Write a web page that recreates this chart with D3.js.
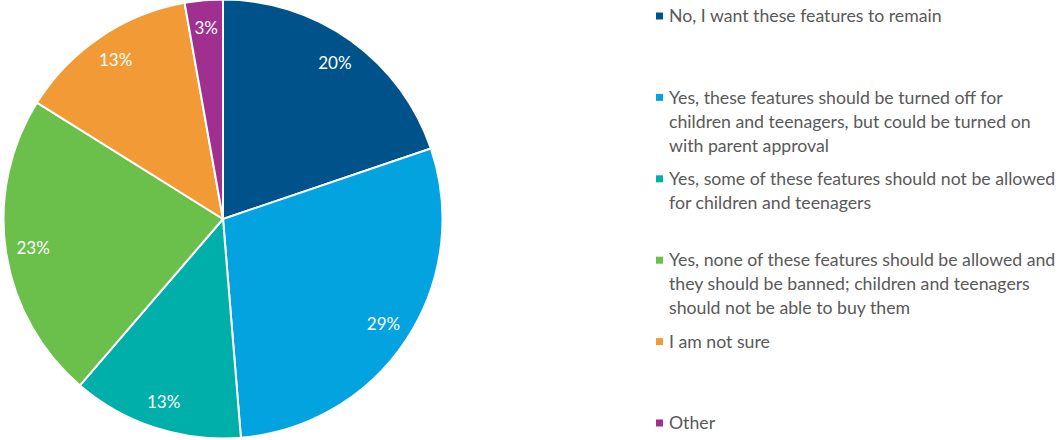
<!DOCTYPE html>
<html>
<head>
<meta charset="utf-8">
<script src="https://cdn.jsdelivr.net/npm/d3@7"></script>
<style>
  body { margin: 0; background: #fff; }
  svg { display: block; font-family: Lato, "Open Sans", sans-serif; }
</style>
</head>
<body>
<div id="chart"></div>
<script>
// answer categories (legend lines already wrapped as in the source)
var categories = [
    ["No, I want these features to remain"],
    ["Yes, these features should be turned off for", "children and teenagers, but could be turned on", "with parent approval"],
    ["Yes, some of these features should not be allowed", "for children and teenagers"],
    ["Yes, none of these features should be allowed and", "they should be banned; children and teenagers", "should not be able to buy them"],
    ["I am not sure"],
    ["Other"]
];

// share of respondents, percent
var values = [19.8, 28.9, 12.6, 22.6, 13.3, 2.8];

var colors = ["#00528A", "#03A3E0", "#00AFA9", "#6BC04B", "#F29B36", "#A0308F"];

var width = 1061, height = 440;
var cx = 223, cy = 219, radius = 219.5;

var svg = d3.select('#chart')
    .append('svg')
    .attr('width', width)
    .attr('height', height);

var pie = d3.pie()
    .sort(null)
    .value(function(d) { return d; });

var arc = d3.arc()
    .innerRadius(0)
    .outerRadius(radius);

var labelArc = d3.arc()
    .innerRadius(192)
    .outerRadius(192);

var g = svg.append('g')
    .attr('transform', "translate(" + cx + "," + cy + ")");

var arcs = pie(values);

g.selectAll('.slice')
    .data(arcs)
    .enter()
    .append('path')
    .attr('class', 'slice')
    .attr('d', arc)
    .attr('fill', function(d, i) { return colors[i]; })
    .attr('stroke', '#fff')
    .attr('stroke-width', 2)
    .attr('stroke-linejoin', 'round');

g.selectAll('.pct')
    .data(arcs)
    .enter()
    .append('text')
    .attr('class', 'pct')
    .attr('transform', function(d) { return "translate(" + labelArc.centroid(d) + ")"; })
    .attr('text-anchor', 'middle')
    .attr('dy', '0.35em')
    .attr('fill', '#fff')
    .style('font-size', '17px')
    .text(function(d) { return Math.round(d.data) + '%'; });

// legend
var legendY = d3.scaleLinear()
    .domain([0, categories.length - 1])
    .range([16, 423]);

var legend = svg.append('g')
    .attr('class', 'legend');

var item = legend.selectAll('.item')
    .data(categories)
    .enter()
    .append('g')
    .attr('class', 'item')
    .attr('transform', function(d, i) { return "translate(656," + legendY(i) + ")"; });

item.append('rect')
    .attr('x', 0)
    .attr('y', -3.5)
    .attr('width', 7)
    .attr('height', 7)
    .attr('fill', function(d, i) { return colors[i]; });

item.append('text')
    .attr('x', 13)
    .attr('fill', '#595959')
    .style('font-size', '17.7px')
    .selectAll('tspan')
    .data(function(d) { return d; })
    .enter()
    .append('tspan')
    .attr('x', 13)
    .attr('y', function(d, j) { return j * 24; })
    .attr('dy', '0.35em')
    .text(function(d) { return d; });
</script>
</body>
</html>
